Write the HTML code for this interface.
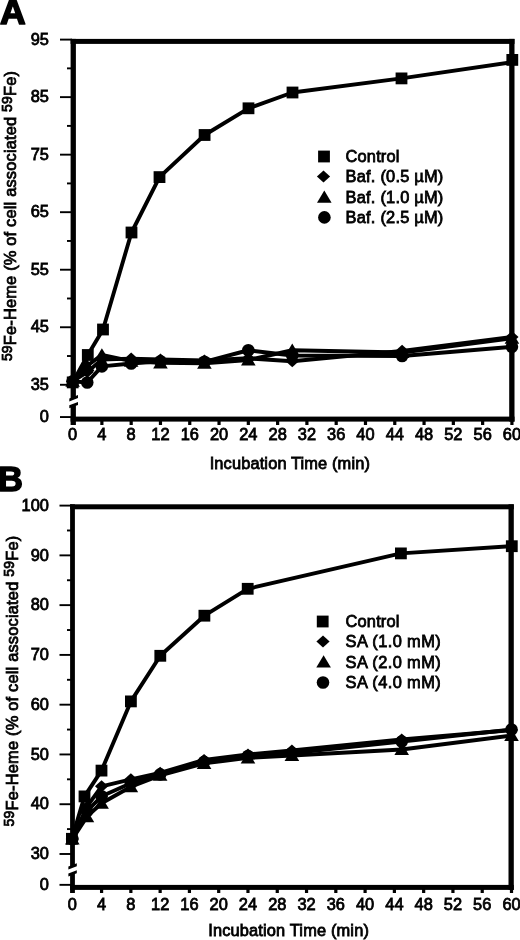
<!DOCTYPE html>
<html><head><meta charset="utf-8"><title>Figure</title>
<style>
html,body{margin:0;padding:0;background:#fff;}
body{width:520px;height:940px;overflow:hidden;}
svg{display:block;will-change:transform;}
text{font-family:"Liberation Sans", sans-serif;fill:#000;}
</style></head>
<body>
<svg width="520" height="940" viewBox="0 0 520 940" fill="#000">
<text transform="translate(0 24) scale(1 1.0)" font-size="35.5" text-anchor="start" font-weight="bold" stroke="#000" stroke-width="1.7" stroke-linejoin="round">A</text>
<rect x="70.6" y="38.9" width="443.9" height="5"/>
<rect x="70.6" y="416.6" width="443.9" height="5"/>
<rect x="509.2" y="38.9" width="5.3" height="382.7"/>
<rect x="70.6" y="38.9" width="5.3" height="359.49"/>
<path d="M69.3 401.4L78 398.09L78 395.09L69.3 398.4Z"/>
<path d="M69.3 405.2L78 401.89L78 404.89L69.3 408.2Z"/>
<rect x="70.6" y="405.21" width="5.3" height="19.79"/>
<rect x="60" y="38.65" width="12" height="1.9"/>
<rect x="60" y="96.18" width="12" height="1.9"/>
<rect x="60" y="153.71" width="12" height="1.9"/>
<rect x="60" y="211.24" width="12" height="1.9"/>
<rect x="60" y="268.77" width="12" height="1.9"/>
<rect x="60" y="326.3" width="12" height="1.9"/>
<rect x="60" y="383.83" width="12" height="1.9"/>
<rect x="67" y="67.42" width="5" height="1.9"/>
<rect x="67" y="124.95" width="5" height="1.9"/>
<rect x="67" y="182.47" width="5" height="1.9"/>
<rect x="67" y="240.01" width="5" height="1.9"/>
<rect x="67" y="297.54" width="5" height="1.9"/>
<rect x="67" y="355.07" width="5" height="1.9"/>
<rect x="60" y="416.1" width="12" height="1.9"/>
<rect x="71" y="419" width="3.2" height="6"/>
<rect x="100.29" y="419" width="3.2" height="6"/>
<rect x="129.58" y="419" width="3.2" height="6"/>
<rect x="158.86" y="419" width="3.2" height="6"/>
<rect x="188.15" y="419" width="3.2" height="6"/>
<rect x="217.44" y="419" width="3.2" height="6"/>
<rect x="246.73" y="419" width="3.2" height="6"/>
<rect x="276.02" y="419" width="3.2" height="6"/>
<rect x="305.3" y="419" width="3.2" height="6"/>
<rect x="334.59" y="419" width="3.2" height="6"/>
<rect x="363.88" y="419" width="3.2" height="6"/>
<rect x="393.17" y="419" width="3.2" height="6"/>
<rect x="422.46" y="419" width="3.2" height="6"/>
<rect x="451.74" y="419" width="3.2" height="6"/>
<rect x="481.03" y="419" width="3.2" height="6"/>
<rect x="510.32" y="419" width="3.2" height="6"/>
<text transform="translate(48.9 44.8) scale(1 1.0)" font-size="16.4" text-anchor="end" font-weight="normal" stroke="#000" stroke-width="0.8">95</text>
<text transform="translate(48.9 102.33) scale(1 1.0)" font-size="16.4" text-anchor="end" font-weight="normal" stroke="#000" stroke-width="0.8">85</text>
<text transform="translate(48.9 159.86) scale(1 1.0)" font-size="16.4" text-anchor="end" font-weight="normal" stroke="#000" stroke-width="0.8">75</text>
<text transform="translate(48.9 217.39) scale(1 1.0)" font-size="16.4" text-anchor="end" font-weight="normal" stroke="#000" stroke-width="0.8">65</text>
<text transform="translate(48.9 274.92) scale(1 1.0)" font-size="16.4" text-anchor="end" font-weight="normal" stroke="#000" stroke-width="0.8">55</text>
<text transform="translate(48.9 332.45) scale(1 1.0)" font-size="16.4" text-anchor="end" font-weight="normal" stroke="#000" stroke-width="0.8">45</text>
<text transform="translate(48.9 389.98) scale(1 1.0)" font-size="16.4" text-anchor="end" font-weight="normal" stroke="#000" stroke-width="0.8">35</text>
<text transform="translate(48.9 422.2) scale(1 1.0)" font-size="16.4" text-anchor="end" font-weight="normal" stroke="#000" stroke-width="0.8">0</text>
<text transform="translate(72.6 439.8) scale(1 1.0)" font-size="16.4" text-anchor="middle" font-weight="normal" stroke="#000" stroke-width="0.8">0</text>
<text transform="translate(101.89 439.8) scale(1 1.0)" font-size="16.4" text-anchor="middle" font-weight="normal" stroke="#000" stroke-width="0.8">4</text>
<text transform="translate(131.18 439.8) scale(1 1.0)" font-size="16.4" text-anchor="middle" font-weight="normal" stroke="#000" stroke-width="0.8">8</text>
<text transform="translate(160.46 439.8) scale(1 1.0)" font-size="16.4" text-anchor="middle" font-weight="normal" stroke="#000" stroke-width="0.8">12</text>
<text transform="translate(189.75 439.8) scale(1 1.0)" font-size="16.4" text-anchor="middle" font-weight="normal" stroke="#000" stroke-width="0.8">16</text>
<text transform="translate(219.04 439.8) scale(1 1.0)" font-size="16.4" text-anchor="middle" font-weight="normal" stroke="#000" stroke-width="0.8">20</text>
<text transform="translate(248.33 439.8) scale(1 1.0)" font-size="16.4" text-anchor="middle" font-weight="normal" stroke="#000" stroke-width="0.8">24</text>
<text transform="translate(277.62 439.8) scale(1 1.0)" font-size="16.4" text-anchor="middle" font-weight="normal" stroke="#000" stroke-width="0.8">28</text>
<text transform="translate(306.9 439.8) scale(1 1.0)" font-size="16.4" text-anchor="middle" font-weight="normal" stroke="#000" stroke-width="0.8">32</text>
<text transform="translate(336.19 439.8) scale(1 1.0)" font-size="16.4" text-anchor="middle" font-weight="normal" stroke="#000" stroke-width="0.8">36</text>
<text transform="translate(365.48 439.8) scale(1 1.0)" font-size="16.4" text-anchor="middle" font-weight="normal" stroke="#000" stroke-width="0.8">40</text>
<text transform="translate(394.77 439.8) scale(1 1.0)" font-size="16.4" text-anchor="middle" font-weight="normal" stroke="#000" stroke-width="0.8">44</text>
<text transform="translate(424.06 439.8) scale(1 1.0)" font-size="16.4" text-anchor="middle" font-weight="normal" stroke="#000" stroke-width="0.8">48</text>
<text transform="translate(453.34 439.8) scale(1 1.0)" font-size="16.4" text-anchor="middle" font-weight="normal" stroke="#000" stroke-width="0.8">52</text>
<text transform="translate(482.63 439.8) scale(1 1.0)" font-size="16.4" text-anchor="middle" font-weight="normal" stroke="#000" stroke-width="0.8">56</text>
<text transform="translate(511.92 439.8) scale(1 1.0)" font-size="16.4" text-anchor="middle" font-weight="normal" stroke="#000" stroke-width="0.8">60</text>
<text transform="translate(209.7 468.8) scale(1 1.0)" font-size="16.4" text-anchor="start" font-weight="normal" textLength="160.2" stroke="#000" stroke-width="0.8">Incubation Time (min)</text>
<text transform="translate(15.8 361.1) rotate(-90) scale(1 1.0)" font-size="16.4" font-weight="normal" stroke="#000" stroke-width="0.8" textLength="290.1"><tspan font-size="14" dy="-4.2">59</tspan><tspan dy="4.2">Fe-Heme (% of cell associated </tspan><tspan font-size="14" dy="-4.2">59</tspan><tspan dy="4.2">Fe)</tspan></text>
<g>
<path d="M72.6 381.33L87.24 382.48L101.89 366.37L131.18 363.49L160.46 361.19L204.4 361.77L248.33 350.26L292.26 355.44L402.09 356.02L511.92 346.81" fill="none" stroke="#000" stroke-width="3.9" stroke-linejoin="round"/>
<circle cx="72.6" cy="381.33" r="6.3"/>
<circle cx="87.24" cy="382.48" r="6.3"/>
<circle cx="101.89" cy="366.37" r="6.3"/>
<circle cx="131.18" cy="363.49" r="6.3"/>
<circle cx="160.46" cy="361.19" r="6.3"/>
<circle cx="204.4" cy="361.77" r="6.3"/>
<circle cx="248.33" cy="350.26" r="6.3"/>
<circle cx="292.26" cy="355.44" r="6.3"/>
<circle cx="402.09" cy="356.02" r="6.3"/>
<circle cx="511.92" cy="346.81" r="6.3"/>
<path d="M72.6 381.33L87.24 365.8L101.89 354.86L131.18 361.19L160.46 362.92L204.4 363.26L248.33 360.04L292.26 350.26L402.09 352.56L511.92 338.18" fill="none" stroke="#000" stroke-width="3.9" stroke-linejoin="round"/>
<path d="M72.6 374.62L79.9 386.82L65.3 386.82Z"/>
<path d="M87.24 359.09L94.54 371.29L79.94 371.29Z"/>
<path d="M101.89 348.15L109.19 360.35L94.59 360.35Z"/>
<path d="M131.18 354.48L138.48 366.68L123.88 366.68Z"/>
<path d="M160.46 356.21L167.76 368.41L153.16 368.41Z"/>
<path d="M204.4 356.55L211.7 368.75L197.1 368.75Z"/>
<path d="M248.33 353.33L255.63 365.53L241.03 365.53Z"/>
<path d="M292.26 343.55L299.56 355.75L284.96 355.75Z"/>
<path d="M402.09 345.85L409.39 358.05L394.79 358.05Z"/>
<path d="M511.92 331.47L519.22 343.67L504.62 343.67Z"/>
<path d="M72.6 381.33L87.24 372.12L101.89 359.47L131.18 358.6L160.46 359.47L204.4 360.39L248.33 358.32L292.26 361.19L402.09 350.84L511.92 337.03" fill="none" stroke="#000" stroke-width="3.9" stroke-linejoin="round"/>
<path d="M72.6 375.33L79.2 381.33L72.6 387.33L66 381.33Z"/>
<path d="M87.24 366.12L93.84 372.12L87.24 378.12L80.64 372.12Z"/>
<path d="M101.89 353.47L108.49 359.47L101.89 365.47L95.29 359.47Z"/>
<path d="M131.18 352.6L137.78 358.6L131.18 364.6L124.58 358.6Z"/>
<path d="M160.46 353.47L167.06 359.47L160.46 365.47L153.86 359.47Z"/>
<path d="M204.4 354.39L211 360.39L204.4 366.39L197.8 360.39Z"/>
<path d="M248.33 352.32L254.93 358.32L248.33 364.32L241.73 358.32Z"/>
<path d="M292.26 355.19L298.86 361.19L292.26 367.19L285.66 361.19Z"/>
<path d="M402.09 344.84L408.69 350.84L402.09 356.84L395.49 350.84Z"/>
<path d="M511.92 331.03L518.52 337.03L511.92 343.03L505.32 337.03Z"/>
<path d="M72.7 382.4L87.8 355L103 329.5L131.5 232.5L159.5 177.1L204.6 135L248.5 108.3L292.5 92.5L401.5 78.4L512.3 62.2" fill="none" stroke="#000" stroke-width="3.9" stroke-linejoin="round"/>
<rect x="66.8" y="376.5" width="11.8" height="11.8"/>
<rect x="81.9" y="349.1" width="11.8" height="11.8"/>
<rect x="97.1" y="323.6" width="11.8" height="11.8"/>
<rect x="125.6" y="226.6" width="11.8" height="11.8"/>
<rect x="153.6" y="171.2" width="11.8" height="11.8"/>
<rect x="198.7" y="129.1" width="11.8" height="11.8"/>
<rect x="242.6" y="102.4" width="11.8" height="11.8"/>
<rect x="286.6" y="86.6" width="11.8" height="11.8"/>
<rect x="395.6" y="72.5" width="11.8" height="11.8"/>
<rect x="506.4" y="54" width="11.8" height="11.8"/>
</g>
<rect x="318.1" y="150.6" width="11.8" height="11.8"/>
<path d="M323.5 170.5L330.1 176.5L323.5 182.5L316.9 176.5Z"/>
<path d="M324.3 190.49L331.6 202.69L317 202.69Z"/>
<circle cx="324.4" cy="217.4" r="6.3"/>
<text transform="translate(345.6 162.3) scale(1 1.0)" font-size="16.4" text-anchor="start" font-weight="normal" textLength="53.8" stroke="#000" stroke-width="0.8">Control</text>
<text transform="translate(345.6 182.3) scale(1 1.0)" font-size="16.4" text-anchor="start" font-weight="normal" textLength="97.7" stroke="#000" stroke-width="0.8">Baf. (0.5 µM)</text>
<text transform="translate(345.6 202.8) scale(1 1.0)" font-size="16.4" text-anchor="start" font-weight="normal" textLength="97.7" stroke="#000" stroke-width="0.8">Baf. (1.0 µM)</text>
<text transform="translate(345.6 223.1) scale(1 1.0)" font-size="16.4" text-anchor="start" font-weight="normal" textLength="97.7" stroke="#000" stroke-width="0.8">Baf. (2.5 µM)</text>
<text transform="translate(-1.9 490.8) scale(1 1.0)" font-size="34.5" text-anchor="start" font-weight="bold" stroke="#000" stroke-width="1.5" stroke-linejoin="round">B</text>
<rect x="70.1" y="504.3" width="443.7" height="5"/>
<rect x="70.1" y="884.9" width="443.7" height="5"/>
<rect x="508.5" y="504.3" width="5.3" height="385.6"/>
<rect x="70.1" y="504.3" width="4.8" height="362.23"/>
<path d="M68.4 869.5L76.8 866.31L76.8 863.31L68.4 866.5Z"/>
<path d="M68.4 873.5L76.8 870.31L76.8 873.31L68.4 876.5Z"/>
<rect x="70.1" y="873.35" width="4.8" height="19.65"/>
<rect x="59.5" y="504.65" width="12.5" height="1.9"/>
<rect x="59.5" y="554.42" width="12.5" height="1.9"/>
<rect x="59.5" y="604.19" width="12.5" height="1.9"/>
<rect x="59.5" y="653.96" width="12.5" height="1.9"/>
<rect x="59.5" y="703.73" width="12.5" height="1.9"/>
<rect x="59.5" y="753.5" width="12.5" height="1.9"/>
<rect x="59.5" y="803.27" width="12.5" height="1.9"/>
<rect x="59.5" y="853.04" width="12.5" height="1.9"/>
<rect x="67" y="529.53" width="5" height="1.9"/>
<rect x="67" y="579.3" width="5" height="1.9"/>
<rect x="67" y="629.08" width="5" height="1.9"/>
<rect x="67" y="678.85" width="5" height="1.9"/>
<rect x="67" y="728.62" width="5" height="1.9"/>
<rect x="67" y="778.38" width="5" height="1.9"/>
<rect x="67" y="828.15" width="5" height="1.9"/>
<rect x="59.5" y="883.9" width="12" height="1.9"/>
<rect x="70.7" y="887" width="3.2" height="6"/>
<rect x="99.98" y="887" width="3.2" height="6"/>
<rect x="129.26" y="887" width="3.2" height="6"/>
<rect x="158.54" y="887" width="3.2" height="6"/>
<rect x="187.82" y="887" width="3.2" height="6"/>
<rect x="217.1" y="887" width="3.2" height="6"/>
<rect x="246.38" y="887" width="3.2" height="6"/>
<rect x="275.66" y="887" width="3.2" height="6"/>
<rect x="304.94" y="887" width="3.2" height="6"/>
<rect x="334.22" y="887" width="3.2" height="6"/>
<rect x="363.5" y="887" width="3.2" height="6"/>
<rect x="392.78" y="887" width="3.2" height="6"/>
<rect x="422.06" y="887" width="3.2" height="6"/>
<rect x="451.34" y="887" width="3.2" height="6"/>
<rect x="480.62" y="887" width="3.2" height="6"/>
<rect x="509.9" y="887" width="3.2" height="6"/>
<text transform="translate(48.9 510.8) scale(1 1.0)" font-size="16.4" text-anchor="end" font-weight="normal" stroke="#000" stroke-width="0.8">100</text>
<text transform="translate(48.9 560.57) scale(1 1.0)" font-size="16.4" text-anchor="end" font-weight="normal" stroke="#000" stroke-width="0.8">90</text>
<text transform="translate(48.9 610.34) scale(1 1.0)" font-size="16.4" text-anchor="end" font-weight="normal" stroke="#000" stroke-width="0.8">80</text>
<text transform="translate(48.9 660.11) scale(1 1.0)" font-size="16.4" text-anchor="end" font-weight="normal" stroke="#000" stroke-width="0.8">70</text>
<text transform="translate(48.9 709.88) scale(1 1.0)" font-size="16.4" text-anchor="end" font-weight="normal" stroke="#000" stroke-width="0.8">60</text>
<text transform="translate(48.9 759.65) scale(1 1.0)" font-size="16.4" text-anchor="end" font-weight="normal" stroke="#000" stroke-width="0.8">50</text>
<text transform="translate(48.9 809.42) scale(1 1.0)" font-size="16.4" text-anchor="end" font-weight="normal" stroke="#000" stroke-width="0.8">40</text>
<text transform="translate(48.9 859.19) scale(1 1.0)" font-size="16.4" text-anchor="end" font-weight="normal" stroke="#000" stroke-width="0.8">30</text>
<text transform="translate(48.9 890.2) scale(1 1.0)" font-size="16.4" text-anchor="end" font-weight="normal" stroke="#000" stroke-width="0.8">0</text>
<text transform="translate(72.3 909.9) scale(1 1.0)" font-size="16.4" text-anchor="middle" font-weight="normal" stroke="#000" stroke-width="0.8">0</text>
<text transform="translate(101.58 909.9) scale(1 1.0)" font-size="16.4" text-anchor="middle" font-weight="normal" stroke="#000" stroke-width="0.8">4</text>
<text transform="translate(130.86 909.9) scale(1 1.0)" font-size="16.4" text-anchor="middle" font-weight="normal" stroke="#000" stroke-width="0.8">8</text>
<text transform="translate(160.14 909.9) scale(1 1.0)" font-size="16.4" text-anchor="middle" font-weight="normal" stroke="#000" stroke-width="0.8">12</text>
<text transform="translate(189.42 909.9) scale(1 1.0)" font-size="16.4" text-anchor="middle" font-weight="normal" stroke="#000" stroke-width="0.8">16</text>
<text transform="translate(218.7 909.9) scale(1 1.0)" font-size="16.4" text-anchor="middle" font-weight="normal" stroke="#000" stroke-width="0.8">20</text>
<text transform="translate(247.98 909.9) scale(1 1.0)" font-size="16.4" text-anchor="middle" font-weight="normal" stroke="#000" stroke-width="0.8">24</text>
<text transform="translate(277.26 909.9) scale(1 1.0)" font-size="16.4" text-anchor="middle" font-weight="normal" stroke="#000" stroke-width="0.8">28</text>
<text transform="translate(306.54 909.9) scale(1 1.0)" font-size="16.4" text-anchor="middle" font-weight="normal" stroke="#000" stroke-width="0.8">32</text>
<text transform="translate(335.82 909.9) scale(1 1.0)" font-size="16.4" text-anchor="middle" font-weight="normal" stroke="#000" stroke-width="0.8">36</text>
<text transform="translate(365.1 909.9) scale(1 1.0)" font-size="16.4" text-anchor="middle" font-weight="normal" stroke="#000" stroke-width="0.8">40</text>
<text transform="translate(394.38 909.9) scale(1 1.0)" font-size="16.4" text-anchor="middle" font-weight="normal" stroke="#000" stroke-width="0.8">44</text>
<text transform="translate(423.66 909.9) scale(1 1.0)" font-size="16.4" text-anchor="middle" font-weight="normal" stroke="#000" stroke-width="0.8">48</text>
<text transform="translate(452.94 909.9) scale(1 1.0)" font-size="16.4" text-anchor="middle" font-weight="normal" stroke="#000" stroke-width="0.8">52</text>
<text transform="translate(482.22 909.9) scale(1 1.0)" font-size="16.4" text-anchor="middle" font-weight="normal" stroke="#000" stroke-width="0.8">56</text>
<text transform="translate(511.5 909.9) scale(1 1.0)" font-size="16.4" text-anchor="middle" font-weight="normal" stroke="#000" stroke-width="0.8">60</text>
<text transform="translate(208.2 936.4) scale(1 1.0)" font-size="16.4" text-anchor="start" font-weight="normal" textLength="160.7" stroke="#000" stroke-width="0.8">Incubation Time (min)</text>
<text transform="translate(18.0 826.4) rotate(-90) scale(1 1.0)" font-size="16.4" font-weight="normal" stroke="#000" stroke-width="0.8" textLength="290.6"><tspan font-size="14" dy="-4.2">59</tspan><tspan dy="4.2">Fe-Heme (% of cell associated </tspan><tspan font-size="14" dy="-4.2">59</tspan><tspan dy="4.2">Fe)</tspan></text>
<path d="M72.3 839.06L86.94 811.19L101.58 796.26L130.86 783.32L160.14 774.36L204.06 761.92L247.98 755.94L291.9 752.96L401.7 741.51L511.5 729.57" fill="none" stroke="#000" stroke-width="3.9" stroke-linejoin="round"/>
<circle cx="72.3" cy="839.06" r="6.3"/>
<circle cx="86.94" cy="811.19" r="6.3"/>
<circle cx="101.58" cy="796.26" r="6.3"/>
<circle cx="130.86" cy="783.32" r="6.3"/>
<circle cx="160.14" cy="774.36" r="6.3"/>
<circle cx="204.06" cy="761.92" r="6.3"/>
<circle cx="247.98" cy="755.94" r="6.3"/>
<circle cx="291.9" cy="752.96" r="6.3"/>
<circle cx="401.7" cy="741.51" r="6.3"/>
<circle cx="511.5" cy="729.57" r="6.3"/>
<path d="M72.3 839.06L86.94 816.66L101.58 803.22L130.86 786.8L160.14 775.35L204.06 763.41L247.98 757.93L291.9 755.45L401.7 749.47L511.5 735.54" fill="none" stroke="#000" stroke-width="3.9" stroke-linejoin="round"/>
<path d="M72.3 832.35L79.6 844.55L65 844.55Z"/>
<path d="M86.94 809.95L94.24 822.15L79.64 822.15Z"/>
<path d="M101.58 796.51L108.88 808.71L94.28 808.71Z"/>
<path d="M130.86 780.09L138.16 792.29L123.56 792.29Z"/>
<path d="M160.14 768.64L167.44 780.84L152.84 780.84Z"/>
<path d="M204.06 756.7L211.36 768.9L196.76 768.9Z"/>
<path d="M247.98 751.22L255.28 763.42L240.68 763.42Z"/>
<path d="M291.9 748.74L299.2 760.94L284.6 760.94Z"/>
<path d="M401.7 742.76L409 754.96L394.4 754.96Z"/>
<path d="M511.5 728.83L518.8 741.03L504.2 741.03Z"/>
<path d="M72.3 839.06L86.94 806.71L101.58 786.3L130.86 779.34L160.14 772.86L204.06 759.92L247.98 754.45L291.9 750.47L401.7 739.52L511.5 730.06" fill="none" stroke="#000" stroke-width="3.9" stroke-linejoin="round"/>
<path d="M72.3 833.06L78.9 839.06L72.3 845.06L65.7 839.06Z"/>
<path d="M86.94 800.71L93.54 806.71L86.94 812.71L80.34 806.71Z"/>
<path d="M101.58 780.3L108.18 786.3L101.58 792.3L94.98 786.3Z"/>
<path d="M130.86 773.34L137.46 779.34L130.86 785.34L124.26 779.34Z"/>
<path d="M160.14 766.86L166.74 772.86L160.14 778.86L153.54 772.86Z"/>
<path d="M204.06 753.92L210.66 759.92L204.06 765.92L197.46 759.92Z"/>
<path d="M247.98 748.45L254.58 754.45L247.98 760.45L241.38 754.45Z"/>
<path d="M291.9 744.47L298.5 750.47L291.9 756.47L285.3 750.47Z"/>
<path d="M401.7 733.52L408.3 739.52L401.7 745.52L395.1 739.52Z"/>
<path d="M511.5 724.06L518.1 730.06L511.5 736.06L504.9 730.06Z"/>
<path d="M71.9 838.8L84.5 796.4L101.5 770.6L130.9 701.4L160.3 655.8L204.4 615.7L247.7 588.8L400.9 553.4L511.8 546.2" fill="none" stroke="#000" stroke-width="3.9" stroke-linejoin="round"/>
<rect x="66" y="832.9" width="11.8" height="11.8"/>
<rect x="78.6" y="790.5" width="11.8" height="11.8"/>
<rect x="95.6" y="764.7" width="11.8" height="11.8"/>
<rect x="125" y="695.5" width="11.8" height="11.8"/>
<rect x="154.4" y="649.9" width="11.8" height="11.8"/>
<rect x="198.5" y="609.8" width="11.8" height="11.8"/>
<rect x="241.8" y="582.9" width="11.8" height="11.8"/>
<rect x="395" y="547.5" width="11.8" height="11.8"/>
<rect x="505.9" y="540.3" width="11.8" height="11.8"/>
<rect x="316.8" y="615.6" width="11.8" height="11.8"/>
<path d="M323 635.5L329.6 641.5L323 647.5L316.4 641.5Z"/>
<path d="M323.6 655.29L330.9 667.49L316.3 667.49Z"/>
<circle cx="323" cy="682.5" r="6.3"/>
<text transform="translate(345.6 627.3) scale(1 1.0)" font-size="16.4" text-anchor="start" font-weight="normal" textLength="53.8" stroke="#000" stroke-width="0.8">Control</text>
<text transform="translate(345.6 647.3) scale(1 1.0)" font-size="16.4" text-anchor="start" font-weight="normal" textLength="95.1" stroke="#000" stroke-width="0.8">SA (1.0 mM)</text>
<text transform="translate(345.6 667.8) scale(1 1.0)" font-size="16.4" text-anchor="start" font-weight="normal" textLength="95.1" stroke="#000" stroke-width="0.8">SA (2.0 mM)</text>
<text transform="translate(345.6 688.3) scale(1 1.0)" font-size="16.4" text-anchor="start" font-weight="normal" textLength="95.1" stroke="#000" stroke-width="0.8">SA (4.0 mM)</text>
</svg>
</body></html>
